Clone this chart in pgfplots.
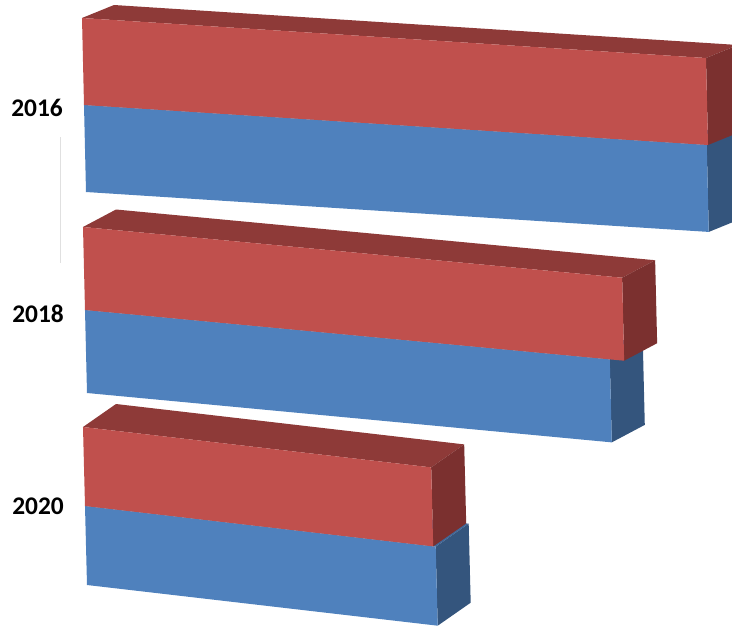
\documentclass[border=0pt]{standalone}
\usepackage{fontspec}
\setmainfont{Carlito}
\usepackage{pgfplots}
\pgfplotsset{compat=1.18}

\definecolor{redfront}{HTML}{C0504D}
\definecolor{redtop}{HTML}{8E3A38}
\definecolor{redside}{HTML}{7B302F}
\definecolor{bluefront}{HTML}{4F81BD}
\definecolor{bluetop}{HTML}{41699B}
\definecolor{blueside}{HTML}{34557D}

% one 3d bar: #1 value, #2 bottom, #3 top, #4 colour prefix
\newcommand\cuboid[4]{%
  \addplot3[fill=#4top,draw=none] coordinates {(0,0,#3) (#1,0,#3) (#1,1,#3) (0,1,#3)};
  \addplot3[fill=#4side,draw=none] coordinates {(#1,0,#2) (#1,1,#2) (#1,1,#3) (#1,0,#3)};
  \addplot3[fill=#4front,draw=none] coordinates {(0,0,#2) (#1,0,#2) (#1,0,#3) (0,0,#3)};
}

\pgfplotsset{bar3d/.style={hide axis, clip=false, no marks,
    xmin=0, xmax=110, ymin=0, ymax=1, zmin=0, zmax=2, anchor=origin}}
\tikzset{yearlabel/.style={anchor=east, inner sep=0pt,
    font=\fontsize{25.5}{30}\selectfont\bfseries}}

\begin{document}
\begin{tikzpicture}
\useasboundingbox (0,0) rectangle (732bp,-628bp);
\clip (0,0) rectangle (732bp,-628bp);
\draw[black!12, line width=1bp] (60bp,-137bp) -- (60bp,-263bp);

% 2016
\begin{axis}[bar3d, at={(86bp,-192bp)},
    x={(6.24bp,-0.40bp)}, y={(32bp,13bp)}, z={(-2bp,87bp)}]
\cuboid{99.8}{0}{1}{blue}
\cuboid{100}{1}{2}{red}
\node[yearlabel, xshift=-21bp, yshift=-3bp] at (axis cs:0,0,1) {2016};
\end{axis}

% 2018
\begin{axis}[bar3d, at={(87bp,-393bp)},
    x={(6.24bp,-0.587bp)}, y={(33bp,17.5bp)}, z={(-2bp,83bp)}]
\cuboid{84.1}{0}{1}{blue}
\cuboid{86.4}{1}{2}{red}
\node[yearlabel, xshift=-21bp, yshift=-4bp] at (axis cs:0,0,1) {2018};
\end{axis}

% 2020
\begin{axis}[bar3d, at={(87bp,-585bp)},
    x={(6.24bp,-0.724bp)}, y={(33bp,23bp)}, z={(-2bp,79bp)}]
\cuboid{56.2}{0}{1}{blue}
\cuboid{55.8}{1}{2}{red}
\node[yearlabel, xshift=-21bp, yshift=0bp] at (axis cs:0,0,1) {2020};
\end{axis}
\end{tikzpicture}
\end{document}
